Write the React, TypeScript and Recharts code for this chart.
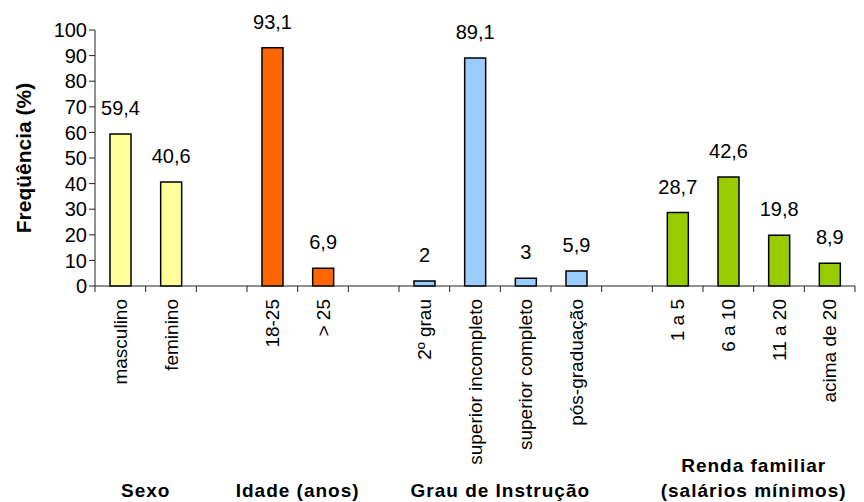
import React from "react";
import { Bar, BarChart, Cell, LabelList, XAxis, YAxis } from "recharts";

// Grupos e categorias (valores em %)
const groupNames = ["Sexo", "Idade (anos)", "Grau de Instrução", "Renda familiar|(salários mínimos)"];
const groupColors = ["#FFFF99", "#FF6600", "#99CCFF", "#99CC00"];

const sexoCats = ["masculino", "feminino"];
const sexoValues = [59.4, 40.6];

const idadeCats = ["18-25", "> 25"];
const idadeValues = [93.1, 6.9];

const grauCats = ["2º grau", "superior incompleto", "superior completo", "pós-graduação"];
const grauValues = [2, 89.1, 3, 5.9];

const rendaCats = ["1 a 5", "6 a 10", "11 a 20", "acima de 20"];
const rendaValues = [28.7, 42.6, 19.8, 8.9];

const yTicks = [0, 10, 20, 30, 40, 50, 60, 70, 80, 90, 100];

const FONT = "'Liberation Sans', Arial, sans-serif";

type Row = {
  key: string;
  label: string;
  value: number | null;
  group: number;
  first: boolean;
  size: number;
};

const groupCats = [sexoCats, idadeCats, grauCats, rendaCats];
const groupValues = [sexoValues, idadeValues, grauValues, rendaValues];

const data: Row[] = [];
groupCats.forEach((cats, g) => {
  cats.forEach((c, i) =>
    data.push({ key: `${g}-${c}`, label: c, value: groupValues[g][i], group: g, first: i === 0, size: cats.length })
  );
  if (g < groupCats.length - 1) {
    data.push({ key: `gap-${g}`, label: "", value: null, group: -1, first: false, size: 0 });
  }
});

const fmt = (v: number) => String(v).replace(".", ",");

function CategoryTick(props: any) {
  const { x, y, payload, index } = props;
  const row = data[index];
  const half = payload?.offset ?? 0;
  const lines = [
    <line key="l" x1={x - half} y1={y} x2={x - half} y2={y + 6} stroke="#222" />,
  ];
  if (index === data.length - 1) {
    lines.push(<line key="r" x1={x + half} y1={y} x2={x + half} y2={y + 6} stroke="#222" />);
  }
  const groupLabel =
    row && row.first
      ? groupNames[row.group].split("|").map((t, i, arr) => (
          <text
            key={"g" + i}
            x={x + (row.size - 1) * half}
            y={y + 211 - (arr.length - 1 - i) * 25}
            textAnchor="middle"
            fontFamily={FONT}
            fontSize={19}
            fontWeight="bold"
            letterSpacing={1}
            fill="#000"
          >
            {t}
          </text>
        ))
      : null;
  return (
    <g>
      {lines}
      {row && row.label ? (
        <text
          transform={`translate(${x},${y + 13}) rotate(-90)`}
          textAnchor="end"
          dominantBaseline="central"
          fontFamily={FONT}
          fontSize={19}
          fill="#000"
        >
          {row.label}
        </text>
      ) : null}
      {groupLabel}
    </g>
  );
}

function ValueLabel(props: any) {
  const { x, y, width, value } = props;
  if (value == null) return null;
  return (
    <text x={x + width / 2} y={y - 19} textAnchor="middle" fontFamily={FONT} fontSize={20} fill="#000">
      {fmt(value)}
    </text>
  );
}

function YLabel(props: any) {
  const vb = props.viewBox || {};
  const cx = (vb.x ?? 0) + 23;
  const cy = (vb.y ?? 0) + (vb.height ?? 0) / 2;
  return (
    <text
      transform={`translate(${cx},${cy}) rotate(-90)`}
      textAnchor="middle"
      dominantBaseline="central"
      fontFamily={FONT}
      fontSize={21}
      fontWeight="bold"
      fill="#000"
    >
      Freqüência (%)
    </text>
  );
}

export default function App() {
  return (
    <div style={{ position: "absolute", left: 0, top: 0, width: 864, height: 502, background: "#fff" }}>
      <BarChart width={864} height={502} data={data} margin={{ top: 30, right: 9, bottom: 0, left: 0 }}>
        <YAxis
          width={95}
          domain={[0, 100]}
          ticks={yTicks}
          interval={0}
          tickSize={6}
          tickMargin={2}
          axisLine={{ stroke: "#222" }}
          tickLine={{ stroke: "#222" }}
          tick={{ fontFamily: FONT, fontSize: 20, fill: "#000" }}
          label={<YLabel />}
        />
        <XAxis
          dataKey="key"
          height={216}
          interval={0}
          tickLine={false}
          tickSize={0}
          tickMargin={0}
          axisLine={{ stroke: "#222" }}
          tick={<CategoryTick />}
        />
        <Bar dataKey="value" barSize={21} stroke="#000" strokeWidth={1.5} isAnimationActive={false}>
          {data.map((d) => (
            <Cell key={d.key} fill={d.group >= 0 ? groupColors[d.group] : "none"} />
          ))}
          <LabelList dataKey="value" content={<ValueLabel />} />
        </Bar>
      </BarChart>
    </div>
  );
}
